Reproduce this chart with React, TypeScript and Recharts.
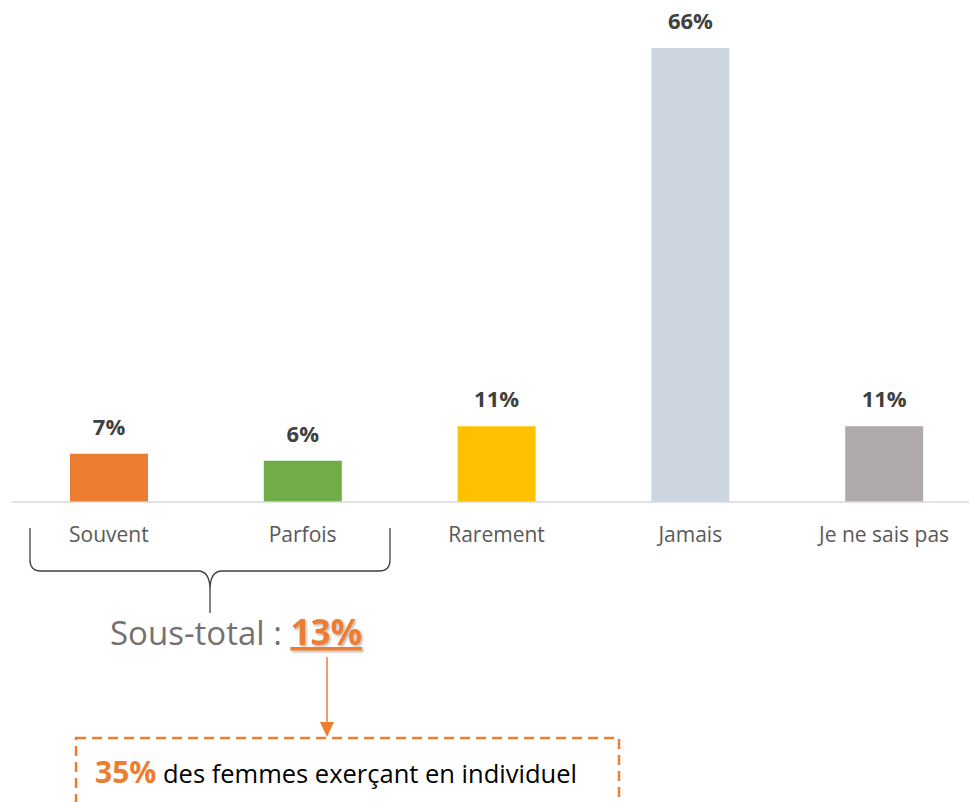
import React from 'react';
import { BarChart, Bar, XAxis, YAxis, Cell, LabelList } from 'recharts';

const categories = ['Souvent', 'Parfois', 'Rarement', 'Jamais', 'Je ne sais pas'];
const values = [7, 6, 11, 66, 11];
const barColors = ['#ED7D31', '#70AD47', '#FFC000', '#CDD5DF', '#AEAAAA'];
const subtotalLabel = 'Sous-total : ';
const subtotalValue = '13%';
const noteValue = '35%';
const noteText = ' des femmes exerçant en individuel';

const data = categories.map((name, i) => ({ name, value: values[i] }));

const FONT = '"Open Sans", sans-serif';
const ORANGE = '#ED7D31';

const App: React.FC = () => {
  return (
    <div style={{ position: 'absolute', left: 0, top: 0, width: 969, height: 802, overflow: 'hidden', background: '#fff' }}>
      <BarChart
        width={981}
        height={802}
        data={data}
        margin={{ top: 48, right: 0, left: 12, bottom: 270 }}
        barSize={78}
      >
        <XAxis
          dataKey="name"
          axisLine={{ stroke: '#D9D9D9', strokeWidth: 1.5 }}
          tickLine={false}
          tickMargin={19}
          tick={{ fill: '#595959', fontSize: 21, fontFamily: FONT }}
          interval={0}
        />
        <YAxis hide domain={[0, 66]} />
        <Bar dataKey="value" isAnimationActive={false}>
          {data.map((d, i) => (
            <Cell key={d.name} fill={barColors[i]} />
          ))}
          <LabelList
            dataKey="value"
            position="top"
            offset={19}
            formatter={(v: number) => `${v}%`}
            style={{ fill: '#404040', fontSize: 22, fontWeight: 700, fontFamily: FONT }}
          />
        </Bar>
      </BarChart>

      {/* annotations: brace, sub-total, arrow and dashed note box */}
      <svg width={969} height={802} style={{ position: 'absolute', left: 0, top: 0, pointerEvents: 'none' }}>
        <defs>
          <filter id="txtShadow" x="-10%" y="-10%" width="130%" height="140%">
            <feDropShadow dx="1.5" dy="1.5" stdDeviation="0.8" floodColor="#000" floodOpacity="0.3" />
          </filter>
        </defs>
        <path
          d="M30,528 L30,560 Q30,571 41,571 L198,571 Q210,571 210,590 L210,613 M210,590 Q210,571 222,571 L379,571 Q390,571 390,560 L390,528"
          fill="none"
          stroke="#404040"
          strokeWidth={1.3}
        />
        <text x={110} y={645} fontFamily={FONT} fontSize={33}>
          <tspan fill="#757171">{subtotalLabel}</tspan>
          <tspan fill={ORANGE} fontWeight={700} fontSize={35} textDecoration="underline" filter="url(#txtShadow)">{subtotalValue}</tspan>
        </text>
        <line x1={327} y1={657} x2={327} y2={724} stroke={ORANGE} strokeWidth={1.5} />
        <polygon points="320,722 334,722 327,737" fill={ORANGE} />
        <rect x={76} y={738} width={543} height={90} fill="none" stroke={ORANGE} strokeWidth={2.5} strokeDasharray="10 6" />
        <text x={95} y={783} fontFamily={FONT} fontSize={25.5}>
          <tspan fill={ORANGE} fontWeight={700} fontSize={30}>{noteValue}</tspan>
          <tspan fill="#000">{noteText}</tspan>
        </text>
      </svg>
    </div>
  );
};

export default App;
